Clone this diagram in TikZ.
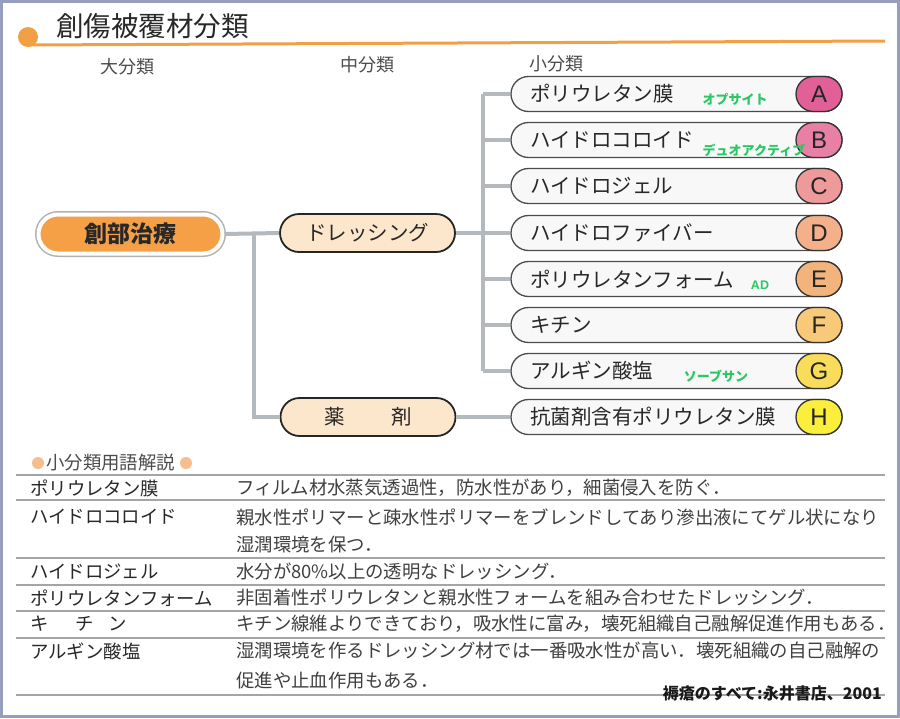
\documentclass[tikz,border=0pt]{standalone}
\usepackage{fontspec}
\setmainfont{Noto Sans CJK JP}
\newfontfamily\lat{Liberation Sans}
\definecolor{frameC}{RGB}{150,160,190}
\definecolor{orangeC}{RGB}{242,160,70}
\definecolor{rootC}{RGB}{245,160,70}
\definecolor{midC}{RGB}{253,231,204}
\definecolor{connC}{RGB}{180,185,190}
\definecolor{pillC}{RGB}{248,248,248}
\definecolor{greenC}{RGB}{40,200,100}
\definecolor{cA}{RGB}{226,96,152}
\definecolor{cB}{RGB}{232,128,166}
\definecolor{cC}{RGB}{238,154,154}
\definecolor{cD}{RGB}{244,176,138}
\definecolor{cE}{RGB}{242,180,124}
\definecolor{cF}{RGB}{247,201,120}
\definecolor{cG}{RGB}{248,220,90}
\definecolor{cH}{RGB}{251,238,60}
\definecolor{dotC}{RGB}{245,190,140}
\definecolor{ruleC}{RGB}{165,165,165}
\definecolor{txtC}{RGB}{40,40,40}
\begin{document}
\begin{tikzpicture}[x=1pt,y=-1pt,
  txt/.style={inner sep=0pt, text=txtC},
  hdr/.style={txt, font=\fontsize{18}{20}\selectfont, text=black!70},
  rootbox/.style={rounded corners=19.5pt, minimum width=184pt, minimum height=39pt, inner sep=0pt,
    fill=rootC, draw=white, line width=4pt, preaction={draw=black!30, line width=7pt},
    font=\bfseries\fontsize{23}{25}\selectfont, text=txtC},
  midbox/.style={rounded corners=19pt, minimum width=175pt, minimum height=38pt, inner sep=0pt,
    fill=midC, draw=black!85, line width=1.8pt, font=\fontsize{20.5}{23}\selectfont, text=txtC},
  pill/.style={rounded corners=17.5pt, minimum width=331pt, minimum height=35pt, inner sep=0pt,
    fill=pillC, draw=black!70, line width=1.3pt},
  ptxt/.style={txt, anchor=west, font=\fontsize{20.5}{23}\selectfont},
  letter/.style={rounded corners=17.5pt, minimum width=46pt, minimum height=35pt, inner sep=0pt,
    draw=black!80, line width=1.3pt, font=\lat\fontsize{24}{24}\selectfont, text=black!85},
  grn/.style={inner sep=0pt, text=greenC, font=\bfseries\fontsize{13}{14}\selectfont},
  conn/.style={draw=connC, line width=4pt},
  rule/.style={draw=ruleC, line width=1.2pt},
  lcol/.style={txt, anchor=west, font=\fontsize{18.4}{20}\selectfont},
  rcol/.style={txt, anchor=west, font=\fontsize{18.4}{20}\selectfont, text=black!75},
]
% background and frame
\fill[white] (0,0) rectangle (900,718);
\useasboundingbox (0,0) rectangle (900,718);
\draw[frameC, line width=3pt] (1.5,1.5) rectangle (898.5,716.5);

% title
\node[txt, anchor=west, font=\fontsize{27.5}{30}\selectfont] (title) at (56,26) {創傷被覆材分類};
\node[circle, fill=orangeC, minimum size=20pt, inner sep=0pt] (dot) at (28,37) {};
\coordinate (lineEnd) at (885,41);
\draw[orangeC, line width=3pt] (dot.center) ++(0,8) -- (lineEnd);

% column headers
\node[hdr] (h1) at (127,67) {大分類};
\node[hdr] (h2) at (367,65) {中分類};
\node[hdr] (h3) at (556,64) {小分類};

% main nodes
\node[rootbox] (root) at (130.5,234) {創部治療};
\node[midbox] (drs) at (367.5,233) {ドレッシング};
\node[midbox] (yak) at (368,417) {薬\hspace{47pt}剤};

% small nodes
\foreach \n/\y in {A/94,B/140,C/186,D/233,E/279,F/325,G/371,H/417}{
  \node[pill] (p\n) at (676.5,\y) {};
}
\node[ptxt] (tA) at (530,94) {ポリウレタン膜};
\node[ptxt] (tB) at (530,140) {ハイドロコロイド};
\node[ptxt] (tC) at (530,186) {ハイドロジェル};
\node[ptxt] (tD) at (530,233) {ハイドロファイバー};
\node[ptxt] (tE) at (530,279) {ポリウレタンフォーム};
\node[ptxt] (tF) at (530,325) {キチン};
\node[ptxt] (tG) at (530,371) {アルギン酸塩};
\node[ptxt] (tH) at (530,417) {抗菌剤含有ポリウレタン膜};
\foreach \n/\y in {A/94,B/140,C/186,D/233,E/279,F/325,G/371,H/417}{
  \node[letter, fill=c\n] (l\n) at (819,\y) {\n};
}
\node[grn] (gA) at (735,99) {オプサイト};
\node[grn] (gB) at (754,150) {デュオアクティブ};
\node[grn, font=\lat\bfseries\fontsize{12.5}{13}\selectfont] (gE) at (760,285) {AD};
\node[grn] (gG) at (716,376) {ソーブサン};

% connectors
\coordinate (j1) at (254,234);
\coordinate (tr) at (483,233);
\draw[conn] (root.east) -- (drs.west);
\draw[conn] (j1) |- (yak.west);
\draw[conn] (drs.east) -- (pD.west);
\draw[conn] (pA.west -| tr) -- (pG.west -| tr);
\foreach \n in {A,B,C,E,F,G}{
  \draw[conn] (p\n.west -| tr) -- (p\n.west);
}
\draw[conn] (yak.east) -- (pH.west);

% glossary
\node[circle, fill=dotC, minimum size=12pt, inner sep=0pt] (d1) at (38,463) {};
\node[txt, anchor=west, font=\fontsize{18.4}{20}\selectfont, text=black!70] (sub) at (46,463) {小分類用語解説};
\node[circle, fill=dotC, minimum size=12pt, inner sep=0pt] (d2) at (186,463) {};

\foreach \y in {475,500,558,585,611,638,695}{
  \draw[rule] (16,\y) -- (885,\y);
}
\node[lcol] (k1) at (30,488) {ポリウレタン膜};
\node[lcol] (k2) at (30,517) {ハイドロコロイド};
\node[lcol] (k3) at (30,572) {ハイドロジェル};
\node[lcol] (k4) at (30,598) {ポリウレタンフォーム};
\node[lcol] (k5) at (30,624) {キ\hspace{27pt}チ\hspace{15pt}ン};
\node[lcol] (k6) at (30,651) {アルギン酸塩};

\node[rcol] (v1) at (236,488) {フィルム材水蒸気透過性，防水性があり，細菌侵入を防ぐ．};
\node[rcol] (v2) at (236,517) {親水性ポリマーと疎水性ポリマーをブレンドしてあり滲出液にてゲル状になり};
\node[rcol] (v2b) at (236,545) {湿潤環境を保つ．};
\node[rcol] (v3) at (236,572) {水分が80\%以上の透明なドレッシング．};
\node[rcol] (v4) at (236,598) {非固着性ポリウレタンと親水性フォームを組み合わせたドレッシング．};
\node[rcol] (v5) at (236,624) {キチン線維よりできており，吸水性に富み，壊死組織自己融解促進作用もある．};
\node[rcol] (v6) at (236,651) {湿潤環境を作るドレッシング材では一番吸水性が高い．壊死組織の自己融解の};
\node[rcol] (v6b) at (236,681) {促進や止血作用もある．};

\node[txt, anchor=east, text=black!90, font=\bfseries\fontsize{16}{18}\selectfont] (cite) at (882,693) {褥瘡のすべて:永井書店、2001};
\end{tikzpicture}
\end{document}
